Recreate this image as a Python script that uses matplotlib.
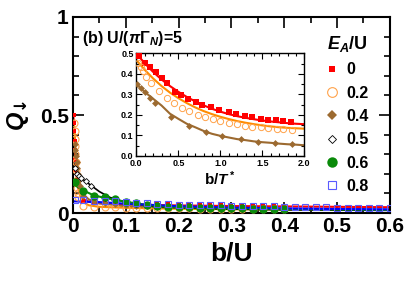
import matplotlib
matplotlib.use("Agg")
import matplotlib.pyplot as plt
from matplotlib.lines import Line2D
from matplotlib.ticker import MultipleLocator, FormatStrFormatter

plt.rcParams["font.family"] = ["Liberation Sans", "DejaVu Sans"]
plt.rcParams["font.weight"] = "bold"
plt.rcParams["mathtext.fontset"] = "custom"
plt.rcParams["mathtext.rm"] = "Liberation Sans:bold"
plt.rcParams["mathtext.it"] = "Liberation Sans:bold:italic"
plt.rcParams["mathtext.bf"] = "Liberation Sans:bold"
plt.rcParams["mathtext.sf"] = "DejaVu Sans:bold"

# ── colours ───────────────────────────────────────────────────────────────
RED = "#ff0000"
ORANGE = "#ff8c00"
ORANGE_PT = "#ffa24a"
BROWN = "#9c6a30"
BLACK = "#000000"
GREEN = "#0a8a0a"
BLUE = "#0000ff"
BLUE_PT = "#5a5aff"

# ── main panel data (b/U) ─────────────────────────────────────────────────
grid_x = [0.02, 0.04, 0.06, 0.08, 0.10, 0.12, 0.14, 0.16, 0.18, 0.20,
          0.22, 0.24, 0.26, 0.28, 0.30, 0.32, 0.34, 0.36, 0.38, 0.40]
grid_x_blue = grid_x + [0.42, 0.44, 0.46, 0.48, 0.50, 0.52, 0.54, 0.56, 0.58, 0.60]

# E_A/U = 0
red_pts_x = [0.002, 0.0025, 0.003, 0.0035, 0.004, 0.0045, 0.005, 0.006] + grid_x
red_pts_y = [0.50, 0.46, 0.42, 0.37, 0.32, 0.27, 0.22, 0.17,
             0.060, 0.055, 0.052, 0.050, 0.048, 0.047, 0.046, 0.045, 0.044, 0.044,
             0.043, 0.042, 0.042, 0.041, 0.041, 0.040, 0.040, 0.039, 0.039, 0.038]
red_line_x = [0, 0.001, 0.002, 0.003, 0.004, 0.005, 0.007, 0.01, 0.015, 0.02,
              0.03, 0.05, 0.1, 0.2, 0.3, 0.4, 0.5, 0.6]
red_line_y = [0.50, 0.49, 0.46, 0.40, 0.33, 0.27, 0.19, 0.13, 0.09, 0.07,
              0.058, 0.050, 0.044, 0.039, 0.036, 0.034, 0.032, 0.030]

# E_A/U = 0.2
org_pts_x = [0.003, 0.0035, 0.004, 0.0045, 0.005, 0.0055, 0.006, 0.007, 0.008,
             0.009, 0.010] + grid_x
org_pts_y = [0.46, 0.42, 0.38, 0.34, 0.30, 0.26, 0.22, 0.17, 0.13, 0.10, 0.08,
             0.035, 0.032, 0.030, 0.029, 0.028, 0.027, 0.026, 0.025, 0.025, 0.024,
             0.024, 0.023, 0.023, 0.022, 0.022, 0.021, 0.021, 0.021, 0.020, 0.020]
org_line_x = [0, 0.002, 0.004, 0.006, 0.008, 0.01, 0.015, 0.02, 0.03, 0.05,
              0.1, 0.2, 0.4, 0.6]
org_line_y = [0.47, 0.45, 0.37, 0.27, 0.19, 0.14, 0.08, 0.055, 0.040, 0.032,
              0.027, 0.022, 0.018, 0.016]

# E_A/U = 0.4
brn_pts_x = [0.004, 0.005, 0.006, 0.007, 0.008, 0.009, 0.011, 0.013] + grid_x
brn_pts_y = [0.35, 0.32, 0.29, 0.26, 0.23, 0.20, 0.17, 0.14,
             0.085, 0.062, 0.050, 0.044, 0.040, 0.036, 0.034, 0.032, 0.030, 0.029,
             0.028, 0.027, 0.026, 0.025, 0.024, 0.023, 0.023, 0.022, 0.022, 0.021]
brn_line_x = [0, 0.003, 0.006, 0.01, 0.015, 0.02, 0.03, 0.05, 0.1, 0.2, 0.4, 0.6]
brn_line_y = [0.35, 0.34, 0.29, 0.20, 0.13, 0.095, 0.070, 0.050, 0.035, 0.027,
              0.020, 0.017]

# E_A/U = 0.5
blk_pts_x = [0.004, 0.008, 0.012, 0.016, 0.025, 0.035] + grid_x[2:]
blk_pts_y = [0.23, 0.20, 0.19, 0.18, 0.165, 0.14,
             0.078, 0.068, 0.055, 0.047, 0.040, 0.035, 0.032, 0.029, 0.027, 0.025,
             0.024, 0.022, 0.021, 0.020, 0.019, 0.018, 0.018, 0.017]
blk_line_x = [0, 0.003, 0.006, 0.015, 0.03, 0.05, 0.07, 0.1, 0.15, 0.2, 0.3, 0.4, 0.6]
blk_line_y = [0.27, 0.24, 0.21, 0.18, 0.15, 0.11, 0.08, 0.055, 0.035, 0.027,
              0.020, 0.017, 0.014]

# E_A/U = 0.6
grn_pts_x = [0.004] + grid_x
grn_pts_y = [0.16, 0.114, 0.088, 0.080, 0.071, 0.058, 0.049, 0.041, 0.036, 0.033,
             0.031, 0.029, 0.028, 0.027, 0.026, 0.025, 0.024, 0.023, 0.022, 0.021, 0.020]
grn_line_x = [0, 0.005, 0.02, 0.04, 0.06, 0.08, 0.1, 0.12, 0.14, 0.16, 0.2, 0.3, 0.4, 0.6]
grn_line_y = [0.15, 0.14, 0.115, 0.090, 0.078, 0.068, 0.058, 0.049, 0.042, 0.036,
              0.030, 0.024, 0.020, 0.016]

# E_A/U = 0.8
blu_pts_x = [0.004] + grid_x_blue
blu_pts_y = [0.066, 0.066, 0.064, 0.062, 0.060, 0.057, 0.054, 0.050, 0.047, 0.045,
             0.043, 0.042, 0.041, 0.040, 0.039, 0.038, 0.037, 0.036, 0.035, 0.034,
             0.033, 0.032, 0.031, 0.030, 0.029, 0.028, 0.028, 0.027, 0.027, 0.026, 0.026]
blu_line_x = [0, 0.05, 0.1, 0.2, 0.3, 0.4, 0.5, 0.6]
blu_line_y = [0.060, 0.056, 0.048, 0.035, 0.028, 0.024, 0.021, 0.019]

# ── inset data (b/T*) ─────────────────────────────────────────────────────
ins_line_x = [0.0, 0.1, 0.2, 0.3, 0.4, 0.5, 0.6, 0.7, 0.8, 0.9, 1.0,
              1.1, 1.2, 1.3, 1.4, 1.5, 1.6, 1.7, 1.8, 1.9, 2.0]
ins_red_line = [0.500, 0.452, 0.410, 0.373, 0.341, 0.313, 0.288, 0.266, 0.247, 0.230,
                0.216, 0.204, 0.194, 0.186, 0.179, 0.173, 0.168, 0.164, 0.160, 0.157, 0.155]
ins_org_line = [0.468, 0.420, 0.378, 0.341, 0.309, 0.282, 0.258, 0.237, 0.219, 0.204,
                0.191, 0.180, 0.170, 0.162, 0.155, 0.149, 0.144, 0.140, 0.137, 0.135, 0.133]
ins_brn_line = [0.350, 0.312, 0.279, 0.246, 0.206, 0.181, 0.157, 0.140, 0.122, 0.108,
                0.098, 0.090, 0.082, 0.077, 0.071, 0.067, 0.064, 0.060, 0.057, 0.055, 0.052]

ins_red_x = [0.03, 0.107, 0.167, 0.234, 0.30, 0.365, 0.465, 0.537, 0.616, 0.704, 0.783,
             0.883, 0.982, 1.10, 1.19, 1.29, 1.38, 1.48, 1.57, 1.66, 1.75, 1.84]
ins_red_y = [0.49, 0.455, 0.432, 0.408, 0.380, 0.355, 0.311, 0.295, 0.278, 0.261, 0.250,
             0.237, 0.223, 0.213, 0.205, 0.197, 0.189, 0.181, 0.176, 0.173, 0.169, 0.165]
ins_org_x = [0.02, 0.05, 0.08, 0.12, 0.18, 0.27, 0.36, 0.45, 0.54, 0.63, 0.73, 0.82,
             0.91, 1.00, 1.10, 1.20, 1.29, 1.38, 1.48, 1.57, 1.67, 1.75, 1.85]
ins_org_y = [0.455, 0.435, 0.415, 0.385, 0.355, 0.315, 0.283, 0.258, 0.236, 0.218, 0.201,
             0.188, 0.178, 0.170, 0.161, 0.154, 0.148, 0.143, 0.139, 0.135, 0.132, 0.130, 0.128]
ins_brn_x = [0.007, 0.05, 0.107, 0.167, 0.227, 0.413, 0.624, 0.823, 1.02, 1.245,
             1.45, 1.65, 1.857]
ins_brn_y = [0.350, 0.330, 0.310, 0.282, 0.258, 0.190, 0.145, 0.116, 0.097, 0.081,
             0.070, 0.063, 0.057]

legend_labels = ["0", "0.2", "0.4", "0.5", "0.6", "0.8"]

# ── figure ────────────────────────────────────────────────────────────────
fig = plt.figure(figsize=(4.07, 2.83), dpi=100)
ax = fig.add_axes([0.179, 0.247, 0.779, 0.693])

ax.plot(red_line_x, red_line_y, color=RED, lw=1.5, zorder=2)
ax.plot(org_line_x, org_line_y, color=ORANGE, lw=1.5, zorder=2)
ax.plot(brn_line_x, brn_line_y, color=BROWN, lw=1.5, zorder=2)
ax.plot(blk_line_x, blk_line_y, color=BLACK, lw=1.2, zorder=2)
ax.plot(grn_line_x, grn_line_y, color=GREEN, lw=1.5, zorder=2)
ax.plot(blu_line_x, blu_line_y, color=BLUE, lw=1.5, zorder=2)

ax.plot(red_pts_x, red_pts_y, "s", color=RED, ms=3.5, mew=0, zorder=3)
ax.plot(org_pts_x, org_pts_y, "o", mfc="none", mec=ORANGE_PT, ms=5, mew=0.8, zorder=3)
ax.plot(brn_pts_x, brn_pts_y, "D", color=BROWN, ms=3.5, mew=0, zorder=3)
ax.plot(blk_pts_x, blk_pts_y, "D", mfc="white", mec=BLACK, ms=3, mew=0.6, zorder=3)
ax.plot(grn_pts_x, grn_pts_y, "o", color=GREEN, ms=6, mew=0, zorder=3)
ax.plot(blu_pts_x, blu_pts_y, "s", mfc="none", mec=BLUE_PT, ms=4, mew=0.8, zorder=3)

ax.set_xlim(0, 0.6)
ax.set_ylim(0, 1)
ax.xaxis.set_minor_locator(MultipleLocator(0.05))
ax.yaxis.set_minor_locator(MultipleLocator(0.1))
ax.set_xticks([0, 0.1, 0.2, 0.3, 0.4, 0.5, 0.6])
ax.set_xticklabels(["0", "0.1", "0.2", "0.3", "0.4", "0.5", "0.6"])
ax.set_yticks([0, 0.5, 1])
ax.set_yticklabels(["0", "0.5", "1"])
ax.tick_params(which="both", direction="in", top=True, right=True, width=1.2,
               labelsize=15, pad=3)
ax.tick_params(which="major", length=8)
ax.tick_params(which="minor", length=4)
for sp in ax.spines.values():
    sp.set_linewidth(1.5)

ax.set_xlabel("b/U", fontsize=19, fontweight="bold", labelpad=4)
ax.set_ylabel(r"$Q_{\mathsf{↓}}$", fontsize=17, labelpad=6)

ax.text(0.028, 0.89, r"(b) U/($\pi\Gamma_N$)=5", transform=ax.transAxes,
        fontsize=11.5, fontweight="bold", va="center", ha="left")

handles = [
    Line2D([], [], ls="none", marker="s", color=RED, ms=5, mew=0),
    Line2D([], [], ls="none", marker="o", mfc="none", mec=ORANGE_PT, ms=7, mew=0.8),
    Line2D([], [], ls="none", marker="D", color=BROWN, ms=5, mew=0),
    Line2D([], [], ls="none", marker="D", mfc="white", mec=BLACK, ms=4.5, mew=0.6),
    Line2D([], [], ls="none", marker="o", color=GREEN, ms=7.5, mew=0),
    Line2D([], [], ls="none", marker="s", mfc="none", mec=BLUE_PT, ms=5.5, mew=0.8),
]
leg = ax.legend(handles, legend_labels, title=r"$E_A$/U", loc="upper left",
                bbox_to_anchor=(0.765, 0.97), frameon=False, fontsize=11.5,
                title_fontsize=13, handlelength=0.7, handletextpad=0.55,
                labelspacing=0.52, borderpad=0.2)
leg._legend_box.align = "left"

# ── inset ─────────────────────────────────────────────────────────────────
ins = fig.add_axes([0.335, 0.449, 0.413, 0.362])
ins.plot(ins_line_x, ins_red_line, color=RED, lw=1.5, zorder=2)
ins.plot(ins_line_x, ins_org_line, color=ORANGE, lw=1.5, zorder=2)
ins.plot(ins_line_x, ins_brn_line, color=BROWN, lw=1.5, zorder=2)
ins.plot(ins_red_x, ins_red_y, "s", color=RED, ms=3.8, mew=0, zorder=3)
ins.plot(ins_org_x, ins_org_y, "o", mfc="none", mec=ORANGE_PT, ms=4.5, mew=0.7, zorder=3)
ins.plot(ins_brn_x, ins_brn_y, "D", color=BROWN, ms=3.5, mew=0, zorder=3)

ins.set_xlim(0, 2)
ins.set_ylim(0, 0.5)
ins.xaxis.set_major_locator(MultipleLocator(0.5))
ins.xaxis.set_minor_locator(MultipleLocator(0.1))
ins.yaxis.set_major_locator(MultipleLocator(0.1))
ins.yaxis.set_minor_locator(MultipleLocator(0.05))
ins.tick_params(which="both", direction="in", top=True, right=True, width=0.8,
                labelsize=6.5, pad=2)
ins.tick_params(which="major", length=4)
ins.tick_params(which="minor", length=2)
for sp in ins.spines.values():
    sp.set_linewidth(1.0)
ins.xaxis.set_major_formatter(FormatStrFormatter("%.1f"))
ins.yaxis.set_major_formatter(FormatStrFormatter("%.1f"))
ins.set_xlabel(r"b/$T^*$", fontsize=11, fontweight="bold", labelpad=1)

fig.savefig("out.png", dpi=100)
